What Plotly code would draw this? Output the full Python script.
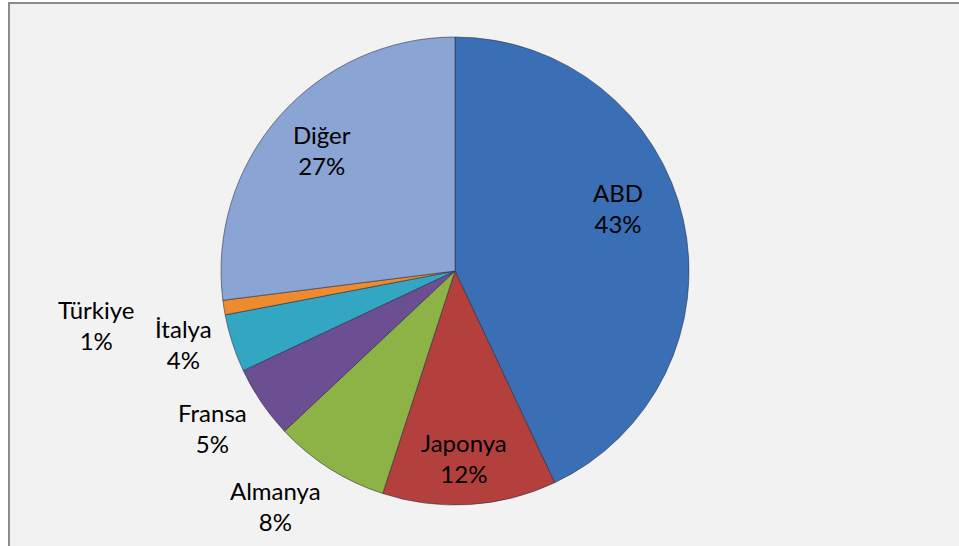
import math
import plotly.graph_objects as go

labels = ["ABD", "Japonya", "Almanya", "Fransa", "İtalya", "Türkiye", "Diğer"]
values = [43, 12, 8, 5, 4, 1, 27]
colors = ["#3A6FB6", "#B4403D", "#8DB245", "#6C4F93", "#33A6C4", "#EE8B2F", "#8AA4D3"]

# ---- layout constants (pixels of the 959x546 figure) ----
W, H = 959, 546
CX, CY, R = 455, 271, 234          # pie centre and radius
FONT = "Lato, 'Open Sans', sans-serif"
FSIZE = 24
# label placement, Excel-style: distance from centre (x radius) and angle nudge (deg)
label_radius = [0.745, 0.80, 1.265, 1.235, 1.20, 1.55, 0.77]
label_nudge = [-8.5, 0.8, 5.0, 1.3, 3.0, 0.4, 1.0]

fig = go.Figure(go.Pie(
    labels=labels,
    values=values,
    sort=False,
    direction="clockwise",
    rotation=0,
    marker=dict(colors=colors, line=dict(color="rgba(40,40,60,0.55)", width=1)),
    textinfo="none",
    showlegend=False,
    hoverinfo="label+percent",
    domain=dict(x=[(CX - R) / W, (CX + R) / W], y=[1 - (CY + R) / H, 1 - (CY - R) / H]),
))

# data labels placed at each slice's mid angle (computed from the values)
total = sum(values)
annotations = []
cum = 0
for lab, v, rf, nd in zip(labels, values, label_radius, label_nudge):
    mid = (cum + v / 2) / total * 360 + nd   # clockwise from 12 o'clock
    cum += v
    a = math.radians(mid)
    px = CX + rf * R * math.sin(a)
    py = CY - rf * R * math.cos(a)
    annotations.append(dict(
        x=px / W, y=1 - py / H, xref="paper", yref="paper",
        text=f"{lab}<br>{round(100 * v / total)}%",
        showarrow=False, xanchor="center", yanchor="middle",
        font=dict(family=FONT, size=FSIZE, color="#000000"),
    ))

fig.update_layout(
    width=W, height=H,
    margin=dict(l=0, r=0, t=0, b=0),
    paper_bgcolor="#FFFFFF",
    plot_bgcolor="#F2F2F2",
    font=dict(family=FONT, size=FSIZE, color="#000000"),
    annotations=annotations,
    shapes=[dict(type="rect", xref="paper", yref="paper",
                 x0=9 / W, x1=1.01, y0=-0.01, y1=1 - 3 / H,
                 fillcolor="#F2F2F2", line=dict(color="#8C8C8C", width=2),
                 layer="below")],
)

fig.write_html("out.html", config={"displayModeBar": False},
               post_script="document.body.style.margin='0';")
